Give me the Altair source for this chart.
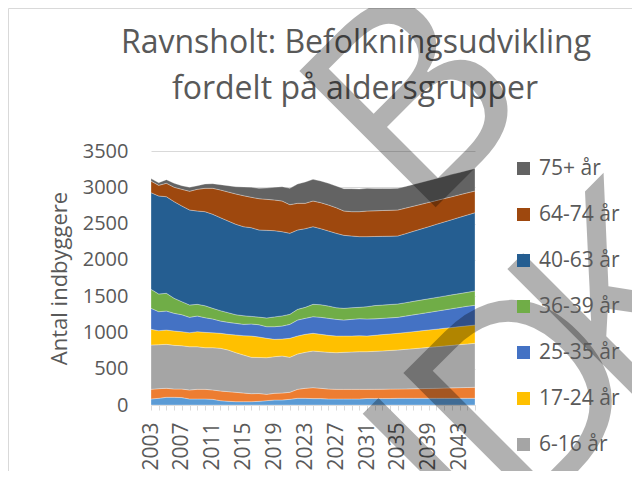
import altair as alt
import pandas as pd

years = list(range(2003, 2046))

groups = ["0-2 år", "3-5 år", "6-16 år", "17-24 år", "25-35 år",
          "36-39 år", "40-63 år", "64-74 år", "75+ år"]
colors = ["#5B9BD5", "#ED7D31", "#A5A5A5", "#FFC000", "#4472C4",
          "#70AD47", "#255E91", "#9E480E", "#636363"]
legend_shown = ["75+ år", "64-74 år", "40-63 år", "36-39 år",
                "25-35 år", "17-24 år", "6-16 år"]

v_0_2 = [83, 92, 106, 106, 102, 83, 83, 83, 78, 60,
         51, 46, 46, 46, 50, 60, 69, 69, 78, 92,
         92, 88, 88, 83, 83, 83, 83, 83, 90, 90,
         90, 90, 92, 92, 92, 92, 92, 92, 92, 92,
         92, 92, 92]
v_3_5 = [133, 133, 124, 114, 118, 124, 133, 133, 129, 133,
         133, 129, 119, 110, 108, 87, 92, 96, 97, 124,
         138, 151, 142, 137, 133, 133, 133, 133, 126, 127,
         128, 129, 128, 130, 132, 134, 136, 138, 141, 144,
         147, 149, 152]
v_6_16 = [611, 606, 606, 602, 597, 596, 587, 574, 583, 588,
          574, 546, 524, 501, 497, 505, 505, 510, 482, 487,
          496, 505, 505, 506, 505, 510, 514, 519, 519, 523,
          527, 533, 538, 545, 552, 559, 567, 574, 580, 586,
          593, 600, 606]
v_17_24 = [216, 193, 197, 198, 193, 193, 207, 211, 206, 207,
           216, 244, 266, 294, 282, 267, 239, 234, 262, 248,
           248, 244, 239, 234, 230, 225, 221, 220, 216, 220,
           225, 227, 230, 232, 235, 237, 239, 241, 244, 246,
           248, 250, 252]
v_25_35 = [289, 262, 262, 243, 234, 212, 216, 202, 189, 169,
           165, 160, 156, 165, 169, 160, 174, 179, 192, 220,
           220, 229, 234, 234, 229, 220, 229, 234, 234, 227,
           224, 222, 220, 226, 231, 237, 242, 248, 253, 259,
           264, 270, 272]
v_36_39 = [262, 244, 244, 207, 180, 170, 161, 165, 147, 143,
           133, 119, 119, 105, 105, 120, 135, 140, 138, 147,
           152, 170, 174, 170, 161, 161, 161, 157, 170, 183,
           183, 184, 184, 185, 186, 187, 188, 189, 190, 191,
           191, 192, 198]
v_40_63 = [1332, 1350, 1331, 1332, 1318, 1309, 1286, 1296, 1296, 1281,
           1263, 1246, 1227, 1222, 1200, 1208, 1188, 1160, 1117, 1093,
           1084, 1070, 1048, 1034, 1025, 1006, 988, 974, 965, 952,
           947, 941, 937, 951, 965, 979, 993, 1008, 1022, 1036,
           1051, 1065, 1078]
v_64_74 = [159, 147, 185, 198, 230, 258, 299, 322, 358, 382,
           400, 418, 427, 419, 432, 427, 423, 423, 394, 368,
           349, 354, 358, 358, 353, 335, 335, 344, 353, 354,
           356, 357, 358, 352, 346, 340, 335, 328, 322, 316,
           311, 305, 299]
v_75 = [35, 36, 50, 55, 50, 55, 50, 59, 64, 73,
        87, 100, 120, 138, 143, 156, 175, 197, 226, 266,
        294, 299, 299, 299, 299, 308, 317, 313, 312, 307,
        303, 300, 298, 299, 301, 302, 303, 304, 306, 308,
        308, 310, 311]

title_lines = ["Ravnsholt: Befolkningsudvikling", "fordelt på aldersgrupper"]
y_title = "Antal indbyggere"
watermark_glyphs = ["B", "U", "D", "K"]

series = [v_0_2, v_3_5, v_6_16, v_17_24, v_25_35, v_36_39, v_40_63, v_64_74, v_75]
rows = []
for gi, (g, vals) in enumerate(zip(groups, series)):
    for yr, v in zip(years, vals):
        rows.append({"year": yr, "group": g, "value": v, "idx": gi})
df = pd.DataFrame(rows)

FONT = "Open Sans"
TXT = "#595959"
GRID = "#D9D9D9"

dom_order = list(reversed(groups))
col_order = list(reversed(colors))

areas = alt.Chart(df).mark_area(
    interpolate="linear", stroke="#FFFFFF", strokeWidth=0.6, strokeOpacity=0.5
).encode(
    x=alt.X("year:Q",
            scale=alt.Scale(domain=[2003, 2045], nice=False, zero=False),
            axis=alt.Axis(values=years, format="d",
                          labelExpr="(datum.value - 2003) % 4 == 0 ? datum.label : ''",
                          labelAngle=270, labelFontSize=21, labelFont=FONT,
                          labelColor=TXT, labelPadding=12, tickSize=5,
                          tickColor=GRID, domainColor=GRID, grid=False,
                          title=None, labelOverlap=False, labelFlush=False)),
    y=alt.Y("value:Q", stack="zero",
            scale=alt.Scale(domain=[0, 3500], nice=False),
            axis=alt.Axis(values=list(range(0, 3501, 500)), format="d",
                          title=y_title, titleFont=FONT, titleFontSize=22,
                          titleFontWeight="normal", titleColor=TXT,
                          titlePadding=11, labelFontSize=20, labelFont=FONT,
                          labelColor=TXT, labelPadding=23, ticks=False,
                          domain=False, grid=True, gridColor=GRID)),
    color=alt.Color("group:N",
                    scale=alt.Scale(domain=dom_order, range=col_order),
                    legend=alt.Legend(values=legend_shown, orient="none",
                                      legendX=362, legendY=7, title=None,
                                      labelFont=FONT, labelFontSize=21,
                                      labelColor=TXT, symbolType="square",
                                      symbolSize=169, symbolStrokeWidth=0,
                                      rowPadding=24, labelOffset=5)),
    order=alt.Order("idx:Q", sort="ascending"),
)

one = pd.DataFrame({"k": [0]})

# faint outer chart-area border (top and left edges)
border_top = alt.Chart(one).mark_rule(color=GRID, strokeWidth=1).encode(
    x=alt.value(-142.5), x2=alt.value(481), y=alt.value(-142.5))
border_left = alt.Chart(one).mark_rule(color=GRID, strokeWidth=1).encode(
    x=alt.value(-142.5), y=alt.value(-142.5), y2=alt.value(330))

def text_layer(txt, x, y, **kw):
    return alt.Chart(pd.DataFrame({"t": [txt]})).mark_text(**kw).encode(
        text="t:N", x=alt.value(x), y=alt.value(y))

t1 = text_layer(title_lines[0], 205, -98, font=FONT, fontSize=32, color=TXT,
                align="center", baseline="alphabetic")
t2 = text_layer(title_lines[1], 204, -52, font=FONT, fontSize=32, color=TXT,
                align="center", baseline="alphabetic")

wm_style = dict(font=FONT, fontSize=270, angle=315, align="left",
                baseline="alphabetic", color="#000000", opacity=0.3)
wm_pos = [(266, 75), (242, 505), (370, 377), (474, 273)]
wm_layers = [text_layer(g, x, y, **wm_style)
             for g, (x, y) in zip(watermark_glyphs, wm_pos)]

chart = alt.layer(border_top, border_left, areas, t1, t2, *wm_layers).properties(
    width=324, height=254,
    autosize=alt.AutoSizeParams(type="none"),
    padding={"left": 143, "top": 143, "right": 157, "bottom": 66},
    background="white",
).configure_view(stroke=None)

chart.save("out.html", embed_options={"renderer": "svg", "actions": False})
